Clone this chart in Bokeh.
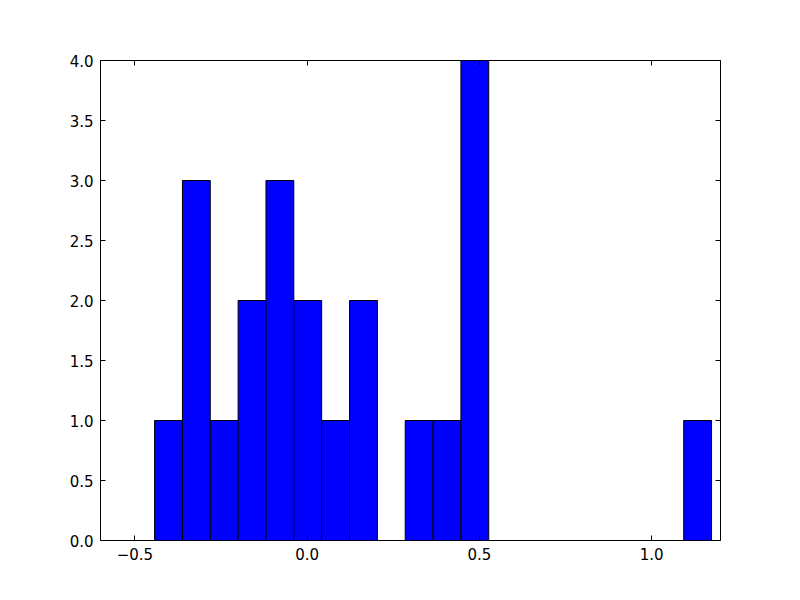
import numpy as np
from bokeh.plotting import figure
from bokeh.models import LinearAxis, FixedTicker, Range1d, CustomJSTickFormatter
from bokeh.embed import file_html
from bokeh.resources import INLINE

# histogram data
bin_lo = -0.443
bin_hi = 1.174
counts = [1, 3, 1, 2, 3, 2, 1, 2, 0, 1, 1, 4, 0, 0, 0, 0, 0, 0, 0, 1]
x_ticks = [-0.5, 0.0, 0.5, 1.0]
y_ticks = [0.0, 0.5, 1.0, 1.5, 2.0, 2.5, 3.0, 3.5, 4.0]

edges = np.linspace(bin_lo, bin_hi, len(counts) + 1)
lefts = edges[:-1]
rights = edges[1:]

p = figure(width=784, height=584, output_backend="svg", toolbar_location=None,
           x_range=Range1d(-0.6, 1.2), y_range=Range1d(0, 4),
           min_border_left=100, min_border_right=64, min_border_top=60, min_border_bottom=44,
           x_axis_location=None, y_axis_location=None)
p.grid.visible = False
p.outline_line_color = "black"
p.outline_line_width = 1
p.background_fill_color = "white"
p.border_fill_color = "white"

p.quad(left=lefts, right=rights, bottom=0, top=counts,
       fill_color="#0000ff", line_color="black", line_width=1)

fmt_code = "return tick.toFixed(1).replace('-', '\\u2212');"

def mk_axis(ticks, show_labels):
    ax = LinearAxis(ticker=FixedTicker(ticks=ticks))
    ax.formatter = CustomJSTickFormatter(code=fmt_code)
    ax.axis_line_color = None
    ax.major_tick_in = 5
    ax.major_tick_out = 0
    ax.minor_tick_line_color = None
    ax.major_tick_line_color = "black"
    ax.major_label_text_font = "DejaVu Sans"
    ax.major_label_text_font_size = "15px"
    ax.major_label_text_color = "black"
    ax.major_label_standoff = 7
    if not show_labels:
        ax.major_label_text_font_size = "0px"
        ax.major_label_text_color = None
    return ax

p.add_layout(mk_axis(x_ticks, True), "below")
p.add_layout(mk_axis(x_ticks, False), "above")
p.add_layout(mk_axis(y_ticks, True), "left")
p.add_layout(mk_axis(y_ticks, False), "right")

open("out.html", "w").write(file_html(p, INLINE))
